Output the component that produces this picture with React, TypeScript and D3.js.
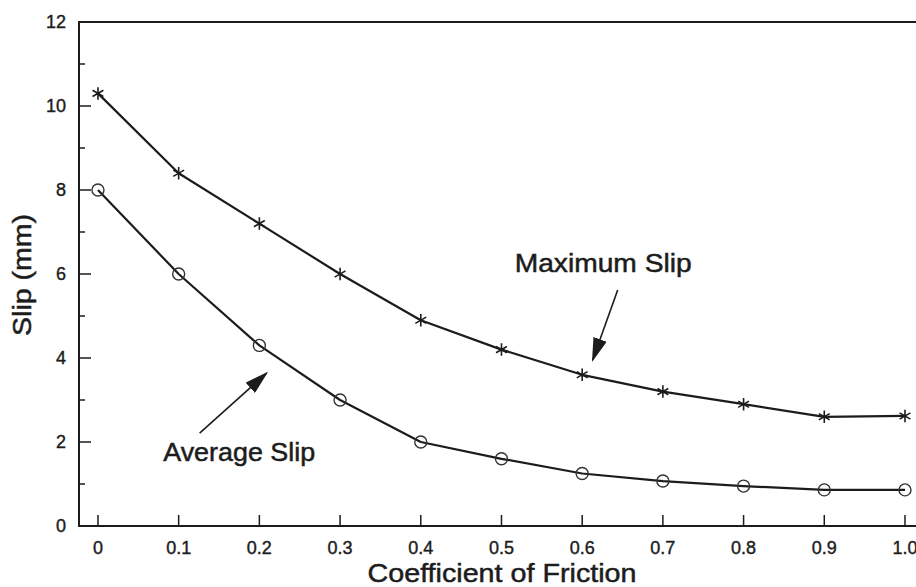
import React, { useEffect, useRef } from 'react';
import * as d3 from 'd3';

// friction coefficients on the x axis
const friction = [0, 0.1, 0.2, 0.3, 0.4, 0.5, 0.6, 0.7, 0.8, 0.9, 1.0];
// slip in mm
const maxSlip = [10.3, 8.4, 7.2, 6.0, 4.9, 4.2, 3.6, 3.2, 2.9, 2.6, 2.62];
const avgSlip = [8.0, 6.0, 4.3, 3.0, 2.0, 1.6, 1.25, 1.07, 0.95, 0.86, 0.86];

const xTicks = [0, 0.1, 0.2, 0.3, 0.4, 0.5, 0.6, 0.7, 0.8, 0.9, 1.0];
const xTickLabels = ['0', '0.1', '0.2', '0.3', '0.4', '0.5', '0.6', '0.7', '0.8', '0.9', '1.0'];
const yTicks = [0, 2, 4, 6, 8, 10, 12];
const yMinorTicks = [1, 3, 5, 7, 9, 11];

const App = () => {
  const svgRef = useRef<SVGSVGElement>(null);

  useEffect(() => {
    d3.select(svgRef.current).selectAll('*').remove();

    const width = 916;
    const height = 587;
    const ink = '#1c1c1c';
    const font = '"Liberation Sans", Arial, sans-serif';

    const svg = d3.select(svgRef.current).attr('width', width).attr('height', height);

    // axis frame runs past the right edge of the picture
    const x = d3.scaleLinear().domain([-0.0235, 1.0248]).range([79, 925]);
    const y = d3.scaleLinear().domain([0, 12]).range([526, 22]);

    // frame
    svg
      .append('rect')
      .attr('x', x(-0.0235))
      .attr('y', y(12))
      .attr('width', x(1.0248) - x(-0.0235))
      .attr('height', y(0) - y(12))
      .attr('fill', 'none')
      .attr('stroke', ink)
      .attr('stroke-width', 2);

    // y ticks (inside)
    svg
      .append('g')
      .selectAll('line')
      .data(yTicks)
      .join('line')
      .attr('x1', x(-0.0235))
      .attr('x2', x(-0.0235) + 12)
      .attr('y1', (d) => y(d))
      .attr('y2', (d) => y(d))
      .attr('stroke', ink)
      .attr('stroke-width', 1.5);

    svg
      .append('g')
      .selectAll('line')
      .data(yMinorTicks)
      .join('line')
      .attr('x1', x(-0.0235))
      .attr('x2', x(-0.0235) + 6)
      .attr('y1', (d) => y(d))
      .attr('y2', (d) => y(d))
      .attr('stroke', ink)
      .attr('stroke-width', 1.5);

    svg
      .append('g')
      .selectAll('text')
      .data(yTicks)
      .join('text')
      .attr('x', 66)
      .attr('y', (d) => y(d) + 6)
      .attr('text-anchor', 'end')
      .attr('font-family', font)
      .attr('font-size', 18)
      .attr('fill', ink)
      .attr('stroke', ink)
      .attr('stroke-width', 0.4)
      .text((d) => d);

    // x ticks (inside)
    svg
      .append('g')
      .selectAll('line')
      .data(xTicks)
      .join('line')
      .attr('x1', (d) => x(d))
      .attr('x2', (d) => x(d))
      .attr('y1', y(0))
      .attr('y2', y(0) - 11)
      .attr('stroke', ink)
      .attr('stroke-width', 1.5);

    svg
      .append('g')
      .selectAll('text')
      .data(xTicks)
      .join('text')
      .attr('x', (d) => x(d))
      .attr('y', 554)
      .attr('text-anchor', 'middle')
      .attr('font-family', font)
      .attr('font-size', 18)
      .attr('fill', ink)
      .attr('stroke', ink)
      .attr('stroke-width', 0.4)
      .text((d, i) => xTickLabels[i]);

    // axis titles
    svg
      .append('text')
      .attr('x', 502)
      .attr('y', 582)
      .attr('text-anchor', 'middle')
      .attr('font-family', font)
      .attr('font-size', 26)
      .attr('textLength', 269)
      .attr('lengthAdjust', 'spacingAndGlyphs')
      .attr('fill', ink)
      .attr('stroke', ink)
      .attr('stroke-width', 0.5)
      .text('Coefficient of Friction');

    svg
      .append('text')
      .attr('transform', 'translate(31, 275) rotate(-90)')
      .attr('text-anchor', 'middle')
      .attr('font-family', font)
      .attr('font-size', 26)
      .attr('textLength', 122)
      .attr('lengthAdjust', 'spacingAndGlyphs')
      .attr('fill', ink)
      .attr('stroke', ink)
      .attr('stroke-width', 0.5)
      .text('Slip (mm)');

    // lines
    const line = d3
      .line<number>()
      .x((d, i) => x(friction[i]))
      .y((d) => y(d));

    [maxSlip, avgSlip].forEach((series) => {
      svg
        .append('path')
        .datum(series)
        .attr('fill', 'none')
        .attr('stroke', ink)
        .attr('stroke-width', 2.2)
        .attr('stroke-linejoin', 'round')
        .attr('d', line);
    });

    // markers
    const star = d3.symbol().type(d3.symbolAsterisk).size(110);
    svg
      .append('g')
      .selectAll('path')
      .data(maxSlip)
      .join('path')
      .attr('transform', (d, i) => `translate(${x(friction[i])}, ${y(d)})`)
      .attr('d', star())
      .attr('fill', 'none')
      .attr('stroke', ink)
      .attr('stroke-width', 1.6);

    svg
      .append('g')
      .selectAll('circle')
      .data(avgSlip)
      .join('circle')
      .attr('cx', (d, i) => x(friction[i]))
      .attr('cy', (d) => y(d))
      .attr('r', 6)
      .attr('fill', 'none')
      .attr('stroke', '#333')
      .attr('stroke-width', 1.4);

    // annotations
    svg
      .append('defs')
      .append('marker')
      .attr('id', 'head')
      .attr('viewBox', '0 0 24 14')
      .attr('refX', 22)
      .attr('refY', 7)
      .attr('markerUnits', 'userSpaceOnUse')
      .attr('markerWidth', 24)
      .attr('markerHeight', 14)
      .attr('orient', 'auto')
      .append('path')
      .attr('d', 'M0,0 L24,7 L0,14 Z')
      .attr('fill', ink);

    const notes = [
      { text: 'Maximum Slip', tx: 0.626, ty: 6.05, len: 177, from: [0.644, 5.62], to: [0.613, 3.95] },
      { text: 'Average Slip', tx: 0.175, ty: 1.55, len: 152, from: [0.126, 2.21], to: [0.209, 3.64] },
    ];

    notes.forEach((n) => {
      svg
        .append('text')
        .attr('x', x(n.tx))
        .attr('y', y(n.ty))
        .attr('text-anchor', 'middle')
        .attr('font-family', font)
        .attr('font-size', 26)
        .attr('textLength', n.len)
        .attr('lengthAdjust', 'spacingAndGlyphs')
        .attr('fill', ink)
        .attr('stroke', ink)
        .attr('stroke-width', 0.5)
        .text(n.text);

      svg
        .append('line')
        .attr('x1', x(n.from[0]))
        .attr('y1', y(n.from[1]))
        .attr('x2', x(n.to[0]))
        .attr('y2', y(n.to[1]))
        .attr('stroke', ink)
        .attr('stroke-width', 1.6)
        .attr('marker-end', 'url(#head)');
    });
  }, []);

  return <svg ref={svgRef} style={{ position: 'absolute', left: 0, top: 0, background: '#fff' }}></svg>;
};

export default App;
